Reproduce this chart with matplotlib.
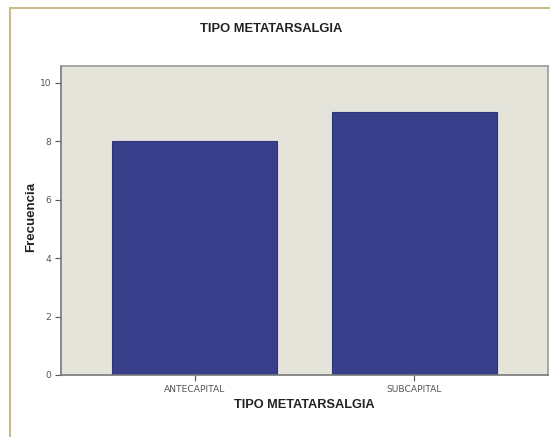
import matplotlib
matplotlib.use("Agg")
import matplotlib.pyplot as plt
from matplotlib.patches import Rectangle

categories = ["ANTECAPITAL", "SUBCAPITAL"]
values = [8, 9]
yticks = [0, 2, 4, 6, 8, 10]

fig = plt.figure(figsize=(5.5, 4.37), dpi=100)
fig.patch.set_facecolor("white")

# outer frame
fig.add_artist(Rectangle((10/550, -0.01), 1.0, 1 - 8/437 + 0.01, transform=fig.transFigure,
                         fill=False, edgecolor="#c9b98f", linewidth=1.5))

ax = fig.add_axes([61/550, 1 - 375/437, (548-61)/550, (375-66)/437])
ax.set_facecolor("#e4e4db")
x = list(range(len(categories)))
ax.bar(x, values, width=0.75, color="#393f8a", edgecolor="#2e3478", linewidth=0.8, zorder=2)
ax.set_xlim(-0.607, 1.607)
ax.set_ylim(0, 10.58)
ax.set_xticks(x)
ax.set_xticklabels(categories, fontsize=6.6, color="#555555")
ax.set_yticks(yticks)
ax.set_yticklabels([str(t) for t in yticks], fontsize=6.6, color="#555555")
ax.tick_params(axis="both", length=4, width=0.8, color="#555555", pad=3)
for s in ax.spines.values():
    s.set_color("#9a9a9a")
    s.set_linewidth(1.2)
ax.spines["left"].set_color("#777777")
ax.spines["bottom"].set_color("#777777")

fig.text(271/550, 1 - 29/437, "TIPO METATARSALGIA", ha="center", va="center",
         fontsize=9.3, fontweight="bold", color="#222222", family="Liberation Sans")
fig.text(304/550, 1 - 405/437, "TIPO METATARSALGIA", ha="center", va="center",
         fontsize=9.2, fontweight="bold", color="#222222", family="Liberation Sans")
fig.text(31/550, 1 - 217/437, "Frecuencia", ha="center", va="center", rotation=90,
         fontsize=9.5, fontweight="bold", color="#222222", family="Liberation Sans")

fig.savefig("out.png", dpi=100)
